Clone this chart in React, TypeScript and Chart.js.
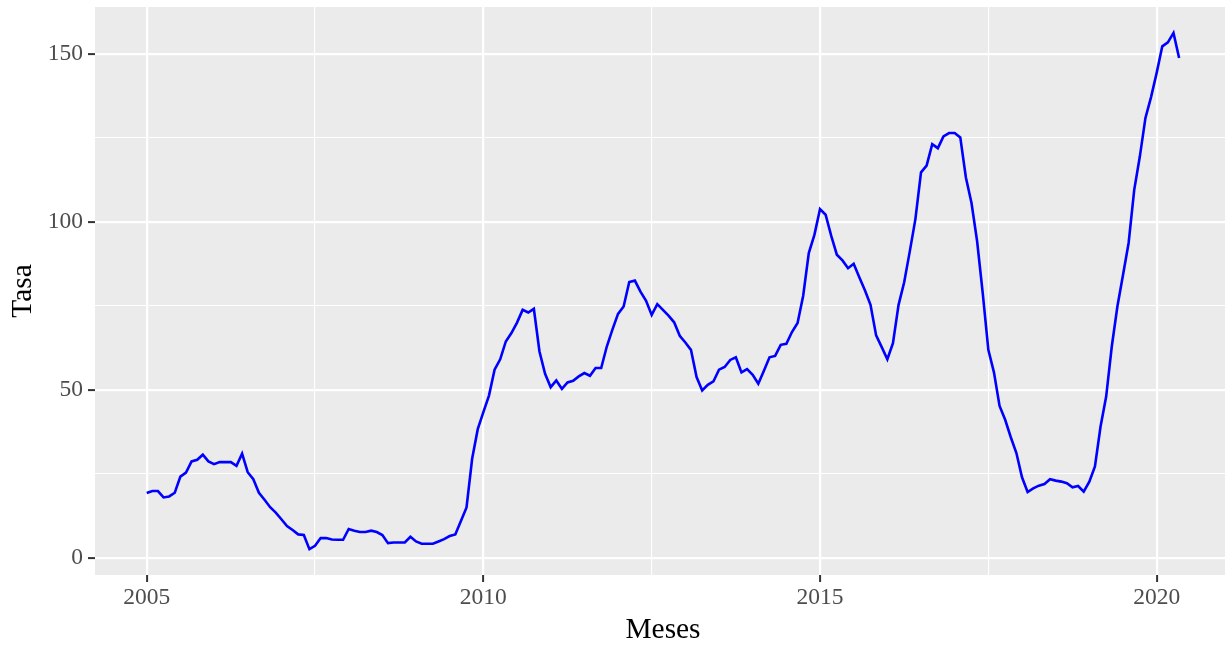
import React, { useEffect, useRef } from 'react';
import { Chart, registerables } from 'chart.js';

Chart.register(...registerables);

const startYear = 2005;

const rates = [
  19.3, 19.9, 19.9, 18.0, 18.3, 19.4, 24.2, 25.4, 28.7, 29.2, 30.7, 28.7,
  27.9, 28.5, 28.5, 28.5, 27.4, 31.0, 25.5, 23.4, 19.4, 17.3, 15.1, 13.5,
  11.5, 9.5, 8.3, 7.0, 6.8, 2.6, 3.6, 5.9, 5.9, 5.5, 5.4, 5.4,
  8.6, 8.1, 7.7, 7.7, 8.1, 7.7, 6.8, 4.4, 4.6, 4.6, 4.6, 6.3,
  4.9, 4.2, 4.2, 4.2, 4.9, 5.6, 6.5, 7.0, 11.0, 15.0, 29.5, 38.3,
  43.4, 48.3, 56.0, 59.1, 64.4, 66.9, 70.0, 73.8, 73.0, 74.1, 61.4, 54.8,
  50.8, 52.8, 50.3, 52.2, 52.7, 54.0, 55.0, 54.2, 56.5, 56.5, 62.9, 67.9,
  72.6, 74.8, 82.1, 82.5, 79.2, 76.5, 72.3, 75.5, 73.8, 72.1, 70.1, 66.1,
  64.1, 61.9, 53.8, 49.8, 51.5, 52.5, 56.0, 56.8, 58.9, 59.7, 55.2, 56.2,
  54.5, 51.8, 55.7, 59.7, 60.1, 63.4, 63.7, 67.2, 69.9, 78.0, 90.7, 96.1,
  103.8, 102.1, 95.8, 90.2, 88.5, 86.2, 87.5, 83.5, 79.6, 75.3, 66.2, 62.7,
  59.1, 63.9, 75.3, 82.0, 91.2, 100.8, 114.7, 116.7, 123.1, 121.9, 125.4, 126.4,
  126.4, 125.1, 113.2, 105.6, 94.2, 78.8, 61.9, 55.2, 45.2, 41.1, 35.9, 31.2,
  24.0, 19.6, 20.7, 21.5, 22.0, 23.4, 23.0, 22.7, 22.2, 21.0, 21.4, 19.7,
  22.7, 27.2, 39.1, 48.0, 62.9, 74.8, 84.2, 93.7, 109.5, 119.4, 130.9, 137.1,
  144.3, 152.2, 153.4, 156.2, 148.7,
];

const monthLabels = rates.map(
  (_, i) => `${startYear + Math.floor(i / 12)}-${String((i % 12) + 1).padStart(2, '0')}`
);

const xMajor = [2005, 2010, 2015, 2020];
const xMinor = [2007.5, 2012.5, 2017.5];
const yMajor = [0, 50, 100, 150];
const yMinor = [25, 75, 125];

const xTitle = 'Meses';
const yTitle = 'Tasa';

function labelToYear(label: string): number {
  const [y, m] = label.split('-').map(Number);
  return y + (m - 1) / 12;
}

const panelBg = {
  id: 'panelBg',
  beforeDraw(chart: any) {
    const { ctx, chartArea: a } = chart;
    ctx.save();
    ctx.fillStyle = '#EBEBEB';
    ctx.fillRect(a.left, a.top, a.right - a.left, a.bottom - a.top);
    ctx.restore();
  },
};

const FONT = "'Liberation Serif', 'Times New Roman', serif";

function gridFor(major: number[]) {
  const isMajor = (c: any) => c.tick && major.includes(c.tick.value);
  return {
    color: '#FFFFFF',
    lineWidth: (c: any) => (isMajor(c) ? 2.2 : 1.1),
    tickColor: (c: any) => (isMajor(c) ? '#333333' : 'rgba(0,0,0,0)'),
    tickWidth: 2,
    tickLength: 7,
    drawTicks: true,
    drawOnChartArea: true,
  };
}

export default function App() {
  const canvasRef = useRef<HTMLCanvasElement | null>(null);

  useEffect(() => {
    if (!canvasRef.current) return;
    const points = rates.map((v, i) => ({ x: labelToYear(monthLabels[i]), y: v }));
    const chart = new Chart(canvasRef.current, {
      type: 'line',
      data: {
        datasets: [
          {
            data: points,
            borderColor: '#0000FF',
            borderWidth: 2.6,
            pointRadius: 0,
            fill: false,
            tension: 0,
          },
        ],
      },
      plugins: [panelBg],
      options: {
        animation: false,
        responsive: false,
        maintainAspectRatio: false,
        layout: { padding: { top: 7, left: 0, right: 0, bottom: 0 } },
        plugins: {
          legend: { display: false },
          tooltip: { enabled: false },
        },
        scales: {
          x: {
            type: 'linear',
            min: 2004.232,
            max: 2021.104,
            afterBuildTicks: (scale: any) => {
              scale.ticks = [...xMajor, ...xMinor].sort((a, b) => a - b).map((v) => ({ value: v }));
            },
            afterFit: (scale: any) => {
              scale.height = 71;
              scale.paddingLeft = 0;
              scale.paddingRight = 0;
            },
            ticks: {
              autoSkip: false,
              maxRotation: 0,
              padding: 2,
              color: '#4D4D4D',
              font: { family: FONT, size: 23.5 },
              callback: (v: any) => (xMajor.includes(Number(v)) ? String(v) : ''),
            },
            grid: gridFor(xMajor) as any,
            border: { display: false },
            title: {
              display: true,
              text: xTitle,
              color: '#000000',
              font: { family: FONT, size: 29.4 },
              padding: { top: 0, bottom: -2 },
            },
          },
          y: {
            type: 'linear',
            min: -5.08,
            max: 163.9,
            afterBuildTicks: (scale: any) => {
              scale.ticks = [...yMajor, ...yMinor].sort((a, b) => a - b).map((v) => ({ value: v }));
            },
            afterFit: (scale: any) => {
              scale.width = 95;
              scale.paddingTop = 0;
              scale.paddingBottom = 0;
            },
            ticks: {
              autoSkip: false,
              padding: 5,
              color: '#4D4D4D',
              font: { family: FONT, size: 23.5 },
              callback: (v: any) => (yMajor.includes(Number(v)) ? String(v) : ''),
            },
            grid: gridFor(yMajor) as any,
            border: { display: false },
            title: {
              display: true,
              text: yTitle,
              color: '#000000',
              font: { family: FONT, size: 29.4 },
              padding: { top: 6, bottom: 0 },
            },
          },
        },
      } as any,
    });
    return () => chart.destroy();
  }, []);

  return (
    <div
      style={{
        position: 'fixed',
        left: 0,
        top: 0,
        width: 1225,
        height: 646,
        overflow: 'hidden',
        background: '#FFFFFF',
      }}
    >
      <canvas ref={canvasRef} width={1231} height={646} style={{ width: 1231, height: 646, display: 'block' }} />
    </div>
  );
}
